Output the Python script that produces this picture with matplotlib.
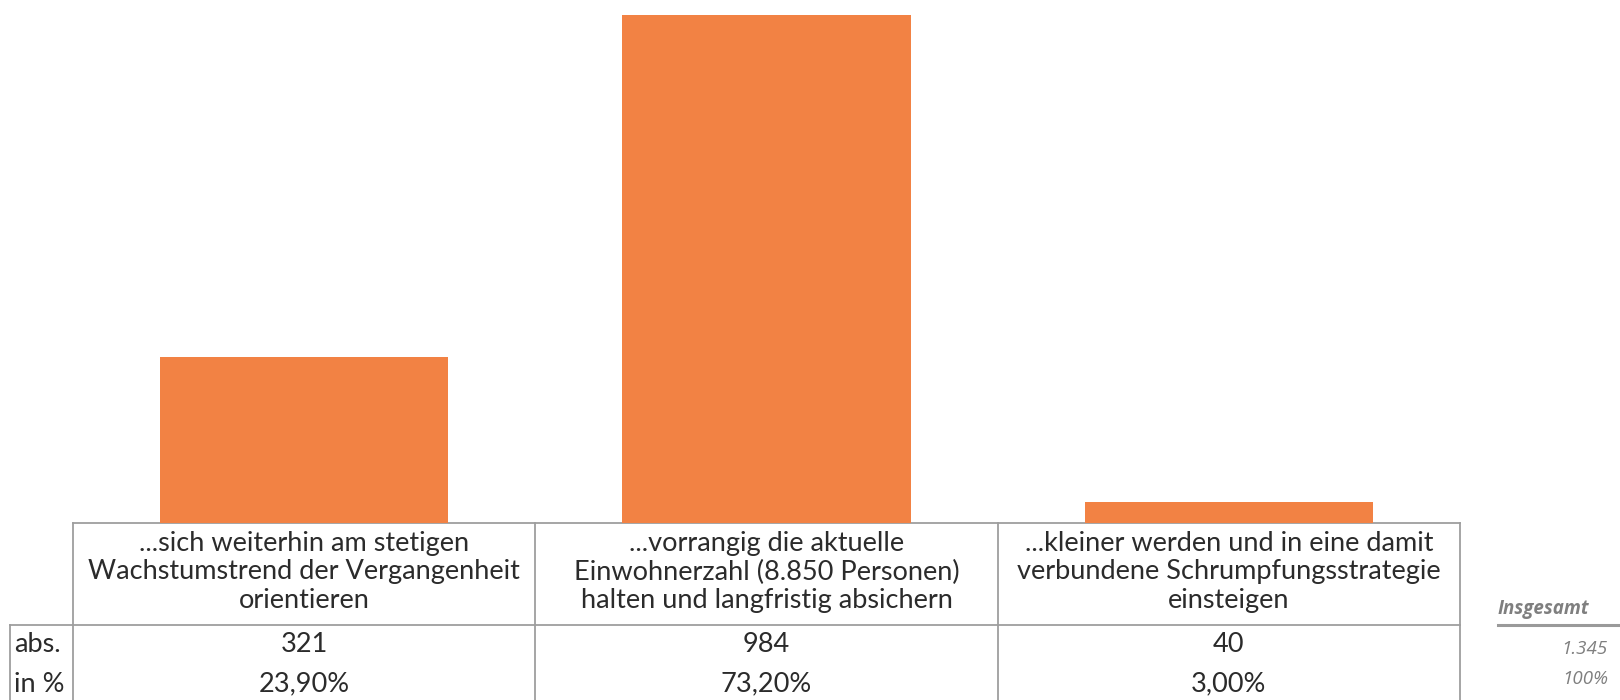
import matplotlib.pyplot as plt
from matplotlib.lines import Line2D

categories = [
    "...sich weiterhin am stetigen\nWachstumstrend der Vergangenheit\norientieren",
    "...vorrangig die aktuelle\nEinwohnerzahl (8.850 Personen)\nhalten und langfristig absichern",
    "...kleiner werden und in eine damit\nverbundene Schrumpfungsstrategie\neinsteigen",
]
abs_values = [321, 984, 40]
pct_labels = ["23,90%", "73,20%", "3,00%"]
row_labels = ["abs.", "in %"]
total_label = "Insgesamt"
total_abs = "1.345"
total_pct = "100%"

W, H = 1620, 700
BAR_COLOR = "#F28244"
GRID = "#9E9E9E"
FONT = ["Lato", "DejaVu Sans"]
TXT = "#2b2b2b"
FS = 19.5


def main():
    fig = plt.figure(figsize=(W / 100, H / 100), dpi=100, facecolor="w")

    # overlay in pixel coordinates for the table under the bars
    tab = fig.add_axes([0, 0, 1, 1])
    tab.set_xlim(0, W)
    tab.set_ylim(H, 0)
    tab.axis("off")

    x0, x1 = 73, 1460
    base = 523
    ax = fig.add_axes([x0 / W, (H - base) / H, (x1 - x0) / W, base / H])
    ax.bar(range(len(abs_values)), abs_values, width=0.623, color=BAR_COLOR, zorder=2)
    ax.set_xlim(-0.5, len(abs_values) - 0.5)
    ax.set_ylim(0, 1014)
    ax.axis("off")

    cols = [x0 + i * (x1 - x0) / 3 for i in range(4)]
    lw = 1.3
    tab.add_line(Line2D([x0, x1], [base, base], color=GRID, lw=lw))
    tab.add_line(Line2D([10, x1], [625, 625], color=GRID, lw=lw))
    for cx in cols:
        tab.add_line(Line2D([cx, cx], [base, H], color=GRID, lw=lw))
    tab.add_line(Line2D([10, 10], [625, H], color=GRID, lw=lw))
    tab.add_line(Line2D([1498, W], [625, 625], color="#9A9A9A", lw=2.2))

    for i, cat in enumerate(categories):
        cx = (cols[i] + cols[i + 1]) / 2
        tab.text(cx, 572, cat, ha="center", va="center", fontsize=FS,
                 linespacing=1.17, family=FONT, color=TXT)
        tab.text(cx, 645, str(abs_values[i]), ha="center", va="center",
                 fontsize=FS, family=FONT, color=TXT)
        tab.text(cx, 684, pct_labels[i], ha="center", va="center",
                 fontsize=FS, family=FONT, color=TXT)

    tab.text(14, 645, row_labels[0], ha="left", va="center", fontsize=FS,
             family=FONT, color=TXT)
    tab.text(14, 684, row_labels[1], ha="left", va="center", fontsize=FS,
             family=FONT, color=TXT)

    tab.text(1498, 609, total_label, ha="left", va="center", fontsize=13.5,
             style="italic", fontweight="bold", family=["Open Sans", "DejaVu Sans"],
             color="#7F7F7F")
    tab.text(1608, 649, total_abs, ha="right", va="center", fontsize=13.5,
             style="italic", family=["Open Sans", "DejaVu Sans"], color="#7F7F7F")
    tab.text(1608, 679, total_pct, ha="right", va="center", fontsize=13.5,
             style="italic", family=["Open Sans", "DejaVu Sans"], color="#7F7F7F")

    fig.savefig("out.png", dpi=100, facecolor="w")
    plt.close(fig)


if __name__ == "__main__":
    main()
